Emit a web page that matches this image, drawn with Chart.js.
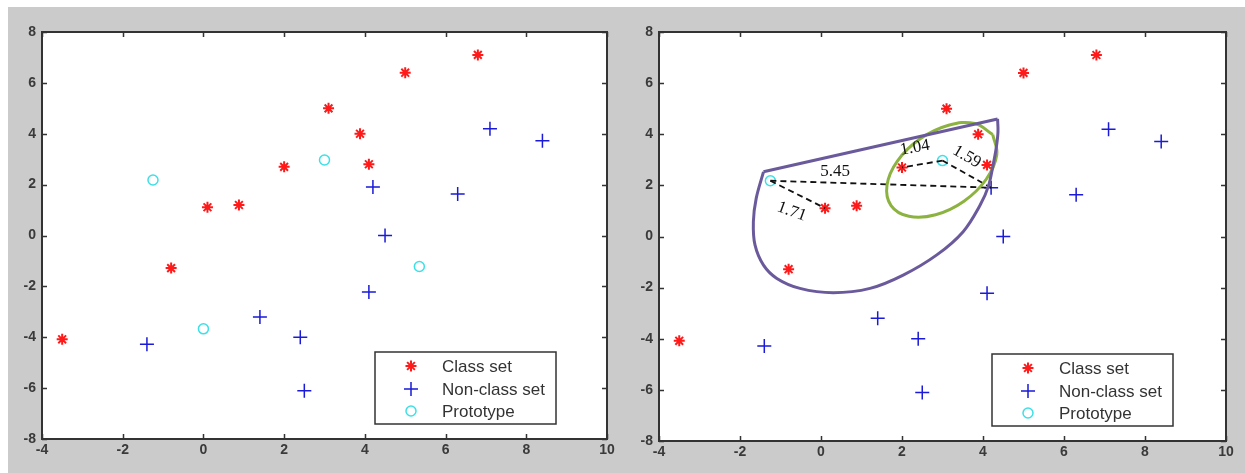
<!DOCTYPE html>
<html><head><meta charset="utf-8">
<script src="https://cdn.jsdelivr.net/npm/chart.js@4.4.0/dist/chart.umd.min.js"></script>
<style>
html,body{margin:0;padding:0;background:#fff;width:1245px;height:473px;overflow:hidden;}
#bg{position:absolute;left:8px;top:7px;width:1237px;height:466px;background:#cbcbcb;}
.c{position:absolute;top:0;height:473px;}
</style></head><body>
<div id="bg"></div>
<div class="c" style="left:0;width:622px"><canvas id="c1"></canvas></div>
<div class="c" style="left:622px;width:623px"><canvas id="c2"></canvas></div>
<script>
// ---- data ----
const xTicks = [-4,-2,0,2,4,6,8,10];
const yTicks = [-8,-6,-4,-2,0,2,4,6,8];
const classX = [-3.5,-0.8,0.1,0.88,2.0,3.1,3.88,4.1,5.0,6.8];
const classY = [-4.08,-1.28,1.11,1.2,2.7,5.0,4.0,2.8,6.4,7.1];
const nonClassX = [-1.4,1.4,2.4,2.5,4.1,4.2,4.5,6.3,7.1,8.4];
const nonClassY = [-4.28,-3.2,-4.0,-6.1,-2.22,1.91,0.0,1.63,4.2,3.72];
const protoX = [-1.25,3.0,0.0,5.35];
const protoY = [2.18,2.97,-3.67,-1.22];
const protoRightCount = 2;
// hand-drawn annotations of right panel (traced)
const regionCurveX = [4.36,4.37,4.33,4.25,4.13,3.93,3.51,2.86,2.03,1.21,0.30,-0.52,-1.09,-1.42,-1.63,-1.67,-1.60,-1.42];
const regionCurveY = [4.60,4.10,3.50,2.80,1.95,1.23,0.19,-0.72,-1.51,-2.03,-2.20,-2.03,-1.64,-1.12,-0.33,0.58,1.49,2.53];
const regionEdgeX = [-1.42,4.36];
const regionEdgeY = [2.53,4.60];
const ellipseX = [4.24,4.34,4.08,3.53,2.83,2.17,1.73,1.63,1.89,2.45,3.15,3.80,4.24];
const ellipseY = [3.99,3.20,2.24,1.38,0.85,0.79,1.21,2.01,2.96,3.82,4.35,4.42,3.99];
const distFromX = [-1.25,-1.25,3.0,3.0];
const distFromY = [2.18,2.18,2.97,2.97];
const distToX = [4.2,0.1,2.0,4.2];
const distToY = [1.91,1.11,2.7,1.91];
const distLabels = ['5.45','1.71','1.04','1.59'];
const distLabelX = [0.35,-0.72,2.32,3.60];
const distLabelY = [2.53,0.97,3.47,3.12];
const distLabelAngle = [0,20,-10,30];
const legendLabels = ['Class set','Non-class set','Prototype'];

// ---- styles ----
const RED='#ff1a1a', BLUE='#1a1ad8', CYAN='#3de0e6', PURPLE='#6a5a9c', GREEN='#8cb23f';
const TICKFONT = {family:'"Liberation Sans", Arial, sans-serif', size:14, weight:'bold'};
const pts = (xs,ys)=>xs.map((x,i)=>({x:x,y:ys[i]}));

const markerStyles = [
  {pointStyle:'star', radius:5.5, color:RED, width:2, fill:RED},
  {pointStyle:'cross', radius:7, color:BLUE, width:1.5, fill:BLUE},
  {pointStyle:'circle', radius:5, color:CYAN, width:1.5, fill:'rgba(0,0,0,0)'}
];

const framePlugin = {
  id:'frame',
  beforeDraw(chart){
    const {ctx, chartArea:a} = chart;
    ctx.save(); ctx.fillStyle='#fff'; ctx.fillRect(a.left,a.top,a.width,a.height); ctx.restore();
  },
  afterDraw(chart, args, opts){
    const {ctx, chartArea:a, scales} = chart;
    ctx.save();
    ctx.strokeStyle='#333'; ctx.lineWidth=2;
    ctx.strokeRect(a.left,a.top,a.width,a.height);
    ctx.lineWidth=1.5;
    const tl=5;
    xTicks.forEach(v=>{
      const x=Math.round(scales.x.getPixelForValue(v))+0.5;
      ctx.beginPath(); ctx.moveTo(x,a.bottom); ctx.lineTo(x,a.bottom-tl);
      ctx.moveTo(x,a.top); ctx.lineTo(x,a.top+tl); ctx.stroke();
    });
    yTicks.forEach(v=>{
      const y=Math.round(scales.y.getPixelForValue(v))+0.5;
      ctx.beginPath(); ctx.moveTo(a.left,y); ctx.lineTo(a.left+tl,y);
      ctx.moveTo(a.right,y); ctx.lineTo(a.right-tl,y); ctx.stroke();
    });
    // distance labels
    if (opts.distLabels) {
      ctx.fillStyle='#111';
      ctx.font='17px "Liberation Serif", "Times New Roman", serif';
      ctx.textAlign='center'; ctx.textBaseline='middle';
      distLabels.forEach((t,i)=>{
        const x=scales.x.getPixelForValue(distLabelX[i]);
        const y=scales.y.getPixelForValue(distLabelY[i]);
        ctx.save(); ctx.translate(x,y); ctx.rotate(distLabelAngle[i]*Math.PI/180);
        ctx.fillText(t,0,0); ctx.restore();
      });
    }
    // legend
    const w=181, h=72;
    const lx=a.right-opts.legRight-w, ly=a.bottom-opts.legBottom-h;
    ctx.fillStyle='#fff'; ctx.fillRect(lx,ly,w,h);
    ctx.strokeStyle='#333'; ctx.lineWidth=1.5; ctx.strokeRect(lx,ly,w,h);
    ctx.font='17px "Liberation Sans", Arial, sans-serif';
    ctx.textAlign='left'; ctx.textBaseline='middle';
    const rows=[14,37,59];
    legendLabels.forEach((t,i)=>{
      const m=markerStyles[i];
      ctx.strokeStyle=m.color; ctx.fillStyle=m.fill; ctx.lineWidth=m.width;
      Chart.helpers.drawPoint(ctx,{pointStyle:m.pointStyle,radius:m.radius,rotation:0,borderWidth:m.width},lx+36,ly+rows[i]);
      ctx.fillStyle='#333';
      ctx.fillText(t,lx+67,ly+rows[i]+1);
    });
    ctx.restore();
  }
};

function markerSets(protoN){
  return [
    {label:legendLabels[0], data:pts(classX,classY), pointStyle:'star', pointRadius:5.5, borderColor:RED, backgroundColor:RED, pointBorderWidth:2},
    {label:legendLabels[1], data:pts(nonClassX,nonClassY), pointStyle:'cross', pointRadius:7, borderColor:BLUE, backgroundColor:BLUE, pointBorderWidth:1.5},
    {label:legendLabels[2], data:pts(protoX.slice(0,protoN),protoY.slice(0,protoN)), pointStyle:'circle', pointRadius:5, borderColor:CYAN, backgroundColor:'rgba(0,0,0,0)', pointBorderWidth:1.5}
  ];
}
function lineSet(xs,ys,color,width,tension,dash){
  return {data:pts(xs,ys), showLine:true, pointRadius:0, borderColor:color, borderWidth:width, tension:tension, borderDash:dash||[], fill:false};
}

function makeChart(id, datasets, o){
  return new Chart(document.getElementById(id), {
    type:'scatter',
    data:{datasets:datasets},
    options:{
      responsive:true, maintainAspectRatio:false, animation:false,
      layout:{padding:{left:0,top:o.top,right:o.right,bottom:0}},
      plugins:{legend:{display:false}, tooltip:{enabled:false},
        frame:{legRight:o.legRight, legBottom:o.legBottom, distLabels:o.distLabels}},
      scales:{
        x:{type:'linear', min:-4, max:10,
           afterBuildTicks:s=>{s.ticks=xTicks.map(v=>({value:v}));},
           ticks:{color:'#3a3a3a', font:TICKFONT, padding:3, maxRotation:0, autoSkip:false},
           grid:{display:false, drawTicks:false}, border:{display:false},
           afterFit:s=>{s.height=o.xh;}},
        y:{type:'linear', min:-8, max:8,
           afterBuildTicks:s=>{s.ticks=yTicks.map(v=>({value:v}));},
           ticks:{color:'#3a3a3a', font:TICKFONT, padding:6, autoSkip:false},
           grid:{display:false, drawTicks:false}, border:{display:false},
           afterFit:s=>{s.width=o.yw;}}
      }
    },
    plugins:[framePlugin]
  });
}

makeChart('c1', markerSets(protoX.length), {top:32,right:15,xh:34,yw:42,legRight:51,legBottom:15,distLabels:false});

const rightSets = [
  lineSet(regionCurveX,regionCurveY,PURPLE,3,0.35),
  lineSet(regionEdgeX,regionEdgeY,PURPLE,3,0),
  lineSet(ellipseX,ellipseY,GREEN,3,0.4)
];
for (let i=0;i<distLabels.length;i++){
  rightSets.push(lineSet([distFromX[i],distToX[i]],[distFromY[i],distToY[i]],'#111',1.8,0,[6,4]));
}
makeChart('c2', rightSets.concat(markerSets(protoRightCount)), {top:32,right:19,xh:32,yw:37,legRight:53,legBottom:15,distLabels:true});
</script>
</body></html>
